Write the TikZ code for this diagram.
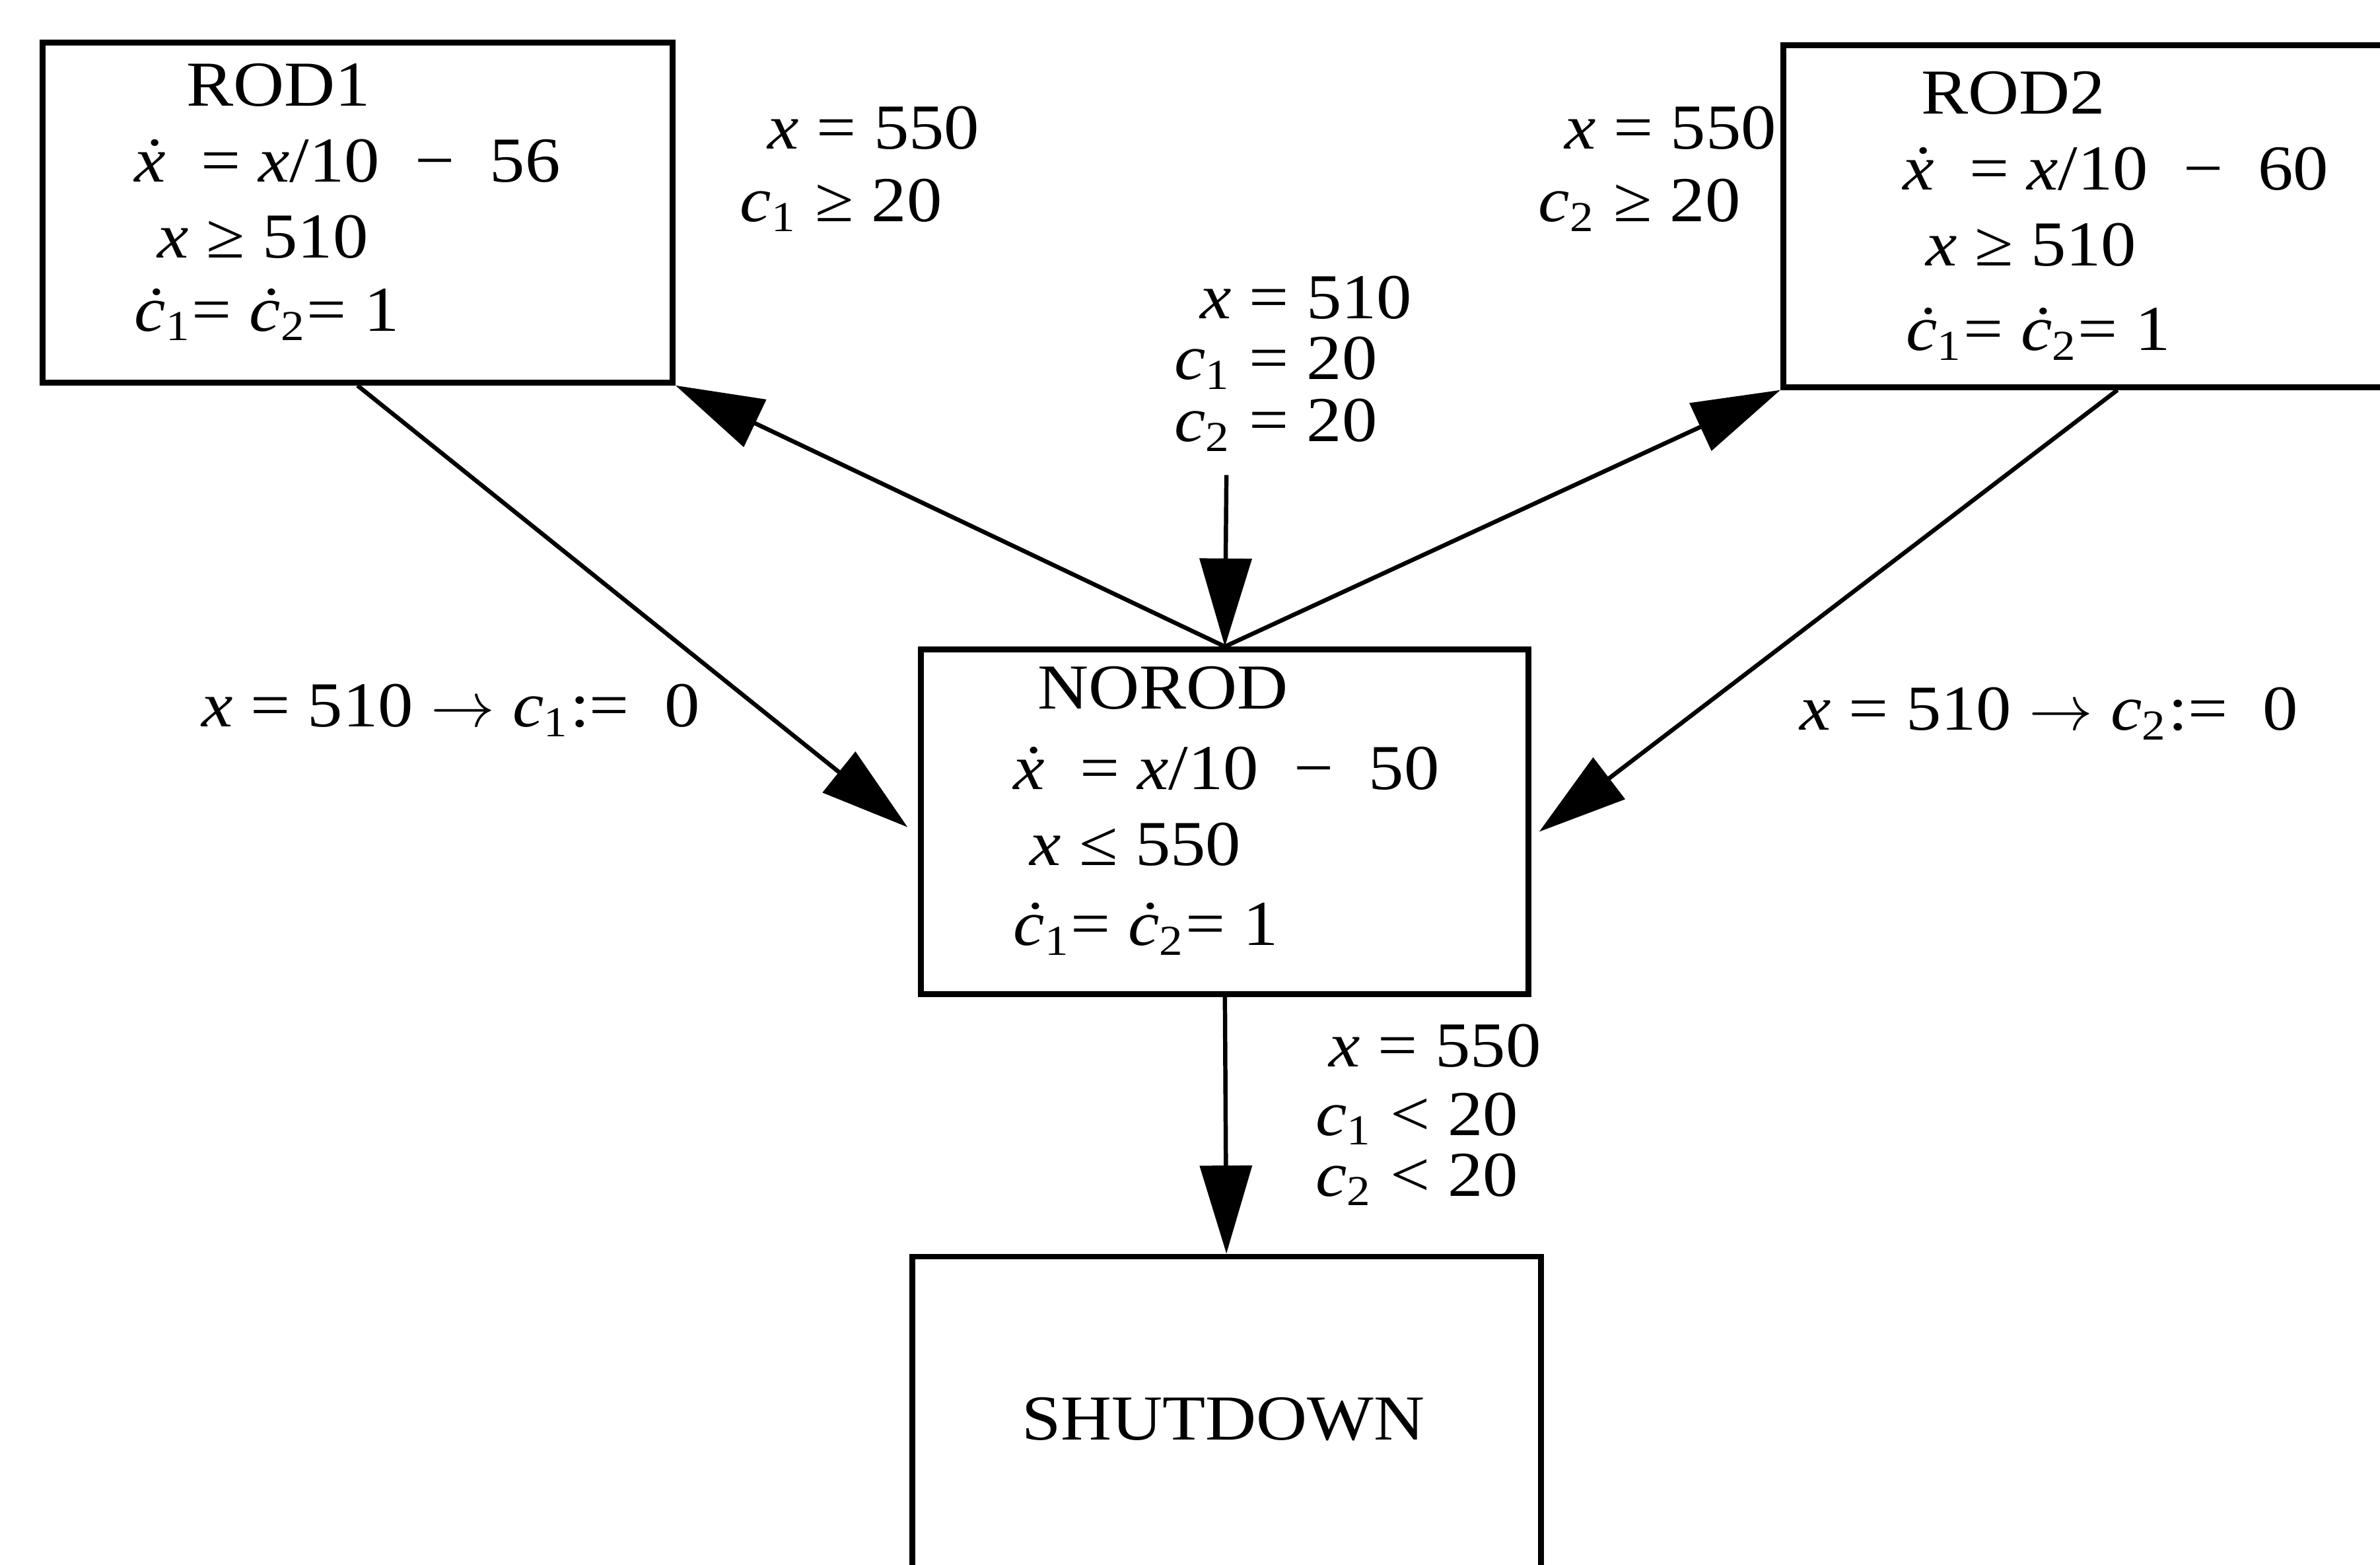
\documentclass[tikz,border=0pt]{standalone}
\usepackage{fontspec}
\setmainfont{Liberation Serif}[FakeStretch=1.1]
\usetikzlibrary{arrows.meta,calc}
\newcommand{\vx}{{\itshape x}}
\newcommand{\vdx}{{\itshape\.x}}
\newcommand{\vc}[1]{{\itshape c}\textsubscript{#1}}
\newcommand{\vdc}[1]{{\itshape\.c}\textsubscript{#1}}
\begin{document}
\begin{tikzpicture}[x=0.01cm,y=-0.01cm,
  box/.style={draw, line width=1.1pt, inner sep=0pt},
  txt/.style={inner sep=0pt, anchor=base west, font=\fontsize{12}{14}\selectfont},
  conn/.style={line width=0.8pt, -{Triangle[length=0.58cm,width=0.34cm]}}]
\useasboundingbox (0,0) rectangle (1568,1031);
\clip (0,0) rectangle (1568,1031);
% boxes
\node[box, minimum width=4.15cm, minimum height=2.24cm] (rod1) at (235.5,140) {};
\node[box, minimum width=4.40cm, minimum height=2.25cm] (rod2) at (1395,142.5) {};
\node[box, minimum width=4.00cm, minimum height=2.27cm] (norod) at (807,541.5) {};
\node[box, minimum width=4.14cm, minimum height=2.40cm] (shut) at (808,948) {};
% ROD1 texts
\node[txt] (r1a) at (122,70) {ROD1};
\node[txt] (r1b) at (88,120) {\vdx\ \ = \vx/10 \ − \ 56};
\node[txt] (r1c) at (103,170) {\vx\ ≥ 510};
\node[txt] (r1d) at (88,218) {\vdc{1}= \vdc{2}= 1};
% ROD2 texts
\node[txt] (r2a) at (1265,75) {ROD2};
\node[txt] (r2b) at (1253,125) {\vdx\ \ = \vx/10 \ − \ 60};
\node[txt] (r2c) at (1268,175) {\vx\ ≥ 510};
\node[txt] (r2d) at (1255,231) {\vdc{1}= \vdc{2}= 1};
% NOROD texts
\node[txt] (n1) at (683,467) {NOROD};
\node[txt] (n2) at (667,520) {\vdx\ \ = \vx/10 \ − \ 50};
\node[txt] (n3) at (678,570) {\vx\ ≤ 550};
\node[txt] (n4) at (667,623) {\vdc{1}= \vdc{2}= 1};
% SHUTDOWN
\node[inner sep=0pt, font=\fontsize{12}{14}\selectfont] (s1) at (806,935) {SHUTDOWN};
% edge labels
\node[txt] (la1) at (505,98) {\vx\ = 550};
\node[txt] (la2) at (487,146) {\vc{1} ≥ 20};
\node[txt] (lb1) at (1030,98) {\vx\ = 550};
\node[txt] (lb2) at (1013,146) {\vc{2} ≥ 20};
\node[txt] (lc1) at (790,210) {\vx\ = 510};
\node[txt] (lc2) at (773,250) {\vc{1} = 20};
\node[txt] (lc3) at (773,291) {\vc{2} = 20};
\node[txt] (ld) at (132,479) {\vx\ = 510 $\rightarrow$ \vc{1}:= \ 0};
\node[txt] (le) at (1185,481) {\vx\ = 510 $\rightarrow$ \vc{2}:= \ 0};
\node[txt] (lf1) at (875,703) {\vx\ = 550};
\node[txt] (lf2) at (866,748) {\vc{1} < 20};
\node[txt] (lf3) at (866,788) {\vc{2} < 20};
% connectors
\coordinate (init) at (808,313);
\draw[conn] (rod1.south) -- ([xshift=-0.07cm,yshift=-0.035cm]norod.west);
\draw[conn] (norod.north) -- (rod1.south east);
\draw[conn] (init) -- (norod.north);
\draw[conn] (norod.north) -- (rod2.south west);
\draw[conn] (rod2.south) -- ([xshift=0.05cm,yshift=-0.065cm]norod.east);
\draw[conn] (norod.south) -- (shut.north);
\end{tikzpicture}
\end{document}
